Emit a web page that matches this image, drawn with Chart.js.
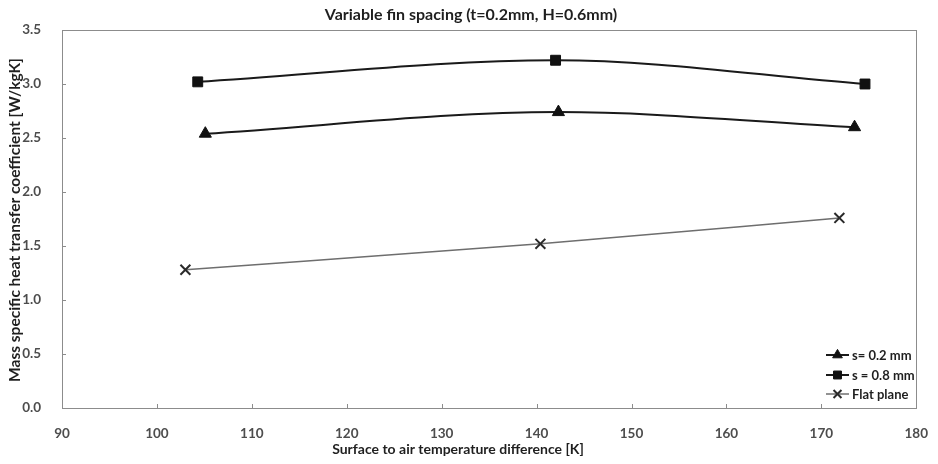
<!DOCTYPE html>
<html>
<head>
<meta charset="utf-8">
<script src="https://cdn.jsdelivr.net/npm/chart.js@4.4.1/dist/chart.umd.min.js"></script>
<style>
  html, body { margin: 0; padding: 0; background: #fff; }
  #wrap { width: 938px; height: 464px; position: relative; }
</style>
</head>
<body>
<div id="wrap"><canvas id="c" width="938" height="464"></canvas></div>
<script>
// Measured points: surface-to-air temperature difference [K] vs. mass specific HTC [W/kgK]
const s02X = [105.1, 142.3, 173.5];
const s02Y = [2.54, 2.74, 2.60];
const s08X = [104.3, 142.0, 174.6];
const s08Y = [3.02, 3.22, 3.00];
const flatX = [103.0, 140.4, 171.9];
const flatY = [1.28, 1.52, 1.76];

const seriesNames = ['s= 0.2 mm', 's = 0.8 mm', 'Flat plane'];
const xTicks = [90, 100, 110, 120, 130, 140, 150, 160, 170, 180];
const yTicks = [0, 0.5, 1.0, 1.5, 2.0, 2.5, 3.0, 3.5];

const chartTitle = 'Variable fin spacing (t=0.2mm, H=0.6mm)';
const xTitle = 'Surface to air temperature difference [K]';
const yTitle = 'Mass specific heat transfer coefficient [W/kgK]';

const FONT = 'Lato, "Open Sans", sans-serif';
const pts = (xs, ys) => xs.map((x, i) => ({ x, y: ys[i] }));

// Frame around the plot area, inward tick marks, titles and the legend
const decor = {
  id: 'decor',
  beforeDatasetsDraw(chart) {
    const { ctx, chartArea: a, scales } = chart;
    ctx.save();
    ctx.strokeStyle = '#8c8c8c';
    ctx.lineWidth = 1;
    ctx.strokeRect(Math.round(a.left) + 0.5, Math.round(a.top) + 0.5,
                   Math.round(a.right - a.left), Math.round(a.bottom - a.top));
    ctx.beginPath();
    yTicks.forEach(v => {
      const y = Math.round(scales.y.getPixelForValue(v)) + 0.5;
      ctx.moveTo(a.left, y); ctx.lineTo(a.left + 4, y);
    });
    xTicks.forEach(v => {
      const x = Math.round(scales.x.getPixelForValue(v)) + 0.5;
      ctx.moveTo(x, a.bottom); ctx.lineTo(x, a.bottom - 4);
    });
    ctx.stroke();
    ctx.restore();
  },
  afterDraw(chart) {
    const { ctx } = chart;
    ctx.save();
    ctx.fillStyle = '#1f1f1f';
    ctx.textAlign = 'center';
    ctx.textBaseline = 'middle';
    ctx.font = 'bold 16px ' + FONT;
    ctx.fillText(chartTitle, 471, 15);
    ctx.font = 'bold 14px ' + FONT;
    ctx.fillText(xTitle, 458, 449);
    ctx.translate(15, 220);
    ctx.rotate(-Math.PI / 2);
    ctx.font = 'bold 15.5px ' + FONT;
    ctx.fillText(yTitle, 0, 0);
    ctx.restore();

    // legend: short line with the series marker, then the label
    ctx.save();
    ctx.font = 'bold 13px ' + FONT;
    ctx.textBaseline = 'middle';
    ctx.textAlign = 'left';
    const rows = [355, 375, 394];
    chart.data.datasets.forEach((ds, i) => {
      const y = rows[i];
      const x0 = 826, x1 = 849;
      ctx.strokeStyle = ds.borderColor;
      ctx.lineWidth = ds.borderWidth;
      ctx.beginPath(); ctx.moveTo(x0, y); ctx.lineTo(x1, y); ctx.stroke();
      ctx.fillStyle = ds.pointBackgroundColor;
      ctx.strokeStyle = ds.pointBorderColor;
      ctx.lineWidth = ds.pointBorderWidth;
      Chart.helpers.drawPoint(ctx, {
        pointStyle: ds.pointStyle, radius: ds.pointRadius * 0.8,
        borderWidth: ds.pointBorderWidth, rotation: 0
      }, (x0 + x1) / 2, y);
      ctx.fillStyle = '#1f1f1f';
      ctx.fillText(ds.label, 852, y + 1);
    });
    ctx.restore();
  }
};

new Chart(document.getElementById('c'), {
  type: 'scatter',
  data: {
    datasets: [
      {
        label: seriesNames[0], data: pts(s02X, s02Y), showLine: true,
        borderColor: '#1a1a1a', backgroundColor: '#111', borderWidth: 2,
        pointStyle: 'triangle', pointRadius: 7, pointBorderWidth: 1,
        pointBackgroundColor: '#111', pointBorderColor: '#111',
        tension: 0.4, cubicInterpolationMode: 'monotone'
      },
      {
        label: seriesNames[1], data: pts(s08X, s08Y), showLine: true,
        borderColor: '#1a1a1a', backgroundColor: '#111', borderWidth: 2,
        pointStyle: 'rect', pointRadius: 7, pointBorderWidth: 1,
        pointBackgroundColor: '#111', pointBorderColor: '#111',
        tension: 0.4, cubicInterpolationMode: 'monotone'
      },
      {
        label: seriesNames[2], data: pts(flatX, flatY), showLine: true,
        borderColor: '#6e6e6e', backgroundColor: '#2a2a2a', borderWidth: 1.5,
        pointStyle: 'crossRot', pointRadius: 7, pointBorderWidth: 2,
        pointBackgroundColor: '#2a2a2a', pointBorderColor: '#2a2a2a',
        tension: 0.4, cubicInterpolationMode: 'monotone'
      }
    ]
  },
  options: {
    responsive: false,
    animation: false,
    events: [],
    layout: { padding: { top: 30, right: 13, left: 0, bottom: 0 } },
    plugins: { legend: { display: false }, title: { display: false }, tooltip: { enabled: false } },
    scales: {
      x: {
        type: 'linear', min: 90, max: 180,
        afterBuildTicks: s => { s.ticks = xTicks.map(v => ({ value: v })); },
        grid: { display: false },
        border: { display: false },
        ticks: { color: '#4d4d4d', font: { family: FONT, size: 13.5, weight: 'bold' }, padding: 10, maxRotation: 0 },
        afterFit: s => { s.height = 56; }
      },
      y: {
        type: 'linear', min: 0, max: 3.5,
        afterBuildTicks: s => { s.ticks = yTicks.map(v => ({ value: v })); },
        grid: { display: false },
        border: { display: false },
        ticks: { color: '#4d4d4d', font: { family: FONT, size: 13.5, weight: 'bold' }, padding: 13,
                 callback: v => Number(v).toFixed(1) },
        afterFit: s => { s.width = 62; }
      }
    }
  },
  plugins: [decor]
});
</script>
</body>
</html>
